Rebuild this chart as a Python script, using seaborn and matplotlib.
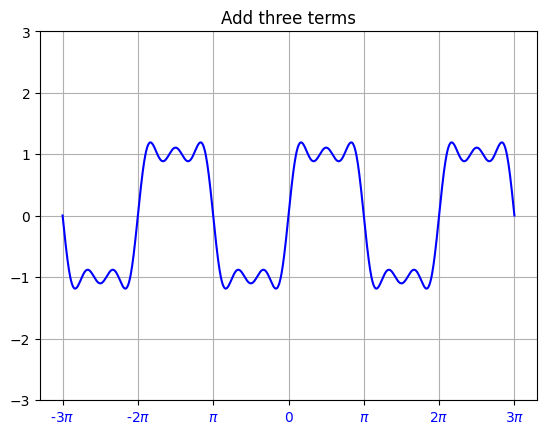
"""
Fourier series of a square wave: sum of the first three odd harmonics.
"""

import matplotlib
matplotlib.use('Agg')
import matplotlib.pyplot as plt
import seaborn as sns
import numpy as np
import pandas as pd

# the three terms: harmonic number and amplitude (4/(n*pi))
harmonics = [1, 3, 5]
amplitudes = [4 / np.pi, 4 / (3 * np.pi), 4 / (5 * np.pi)]

x_ticks = [-3 * np.pi, -2 * np.pi, -np.pi, 0, np.pi, 2 * np.pi, 3 * np.pi]
x_tick_labels = ['-3$\\pi$', '-2$\\pi$', '$\\pi$', '0', '$\\pi$', '2$\\pi$', '3$\\pi$']
y_ticks = [-3, -2, -1, 0, 1, 2, 3]

x = np.linspace(-3 * np.pi, 3 * np.pi, 1000)
y = sum(a * np.sin(n * x) for n, a in zip(harmonics, amplitudes))
df = pd.DataFrame({'x': x, 'y': y})

fig = plt.figure(figsize=(5.46, 4.35), dpi=100)
ax = fig.add_axes([40 / 546, (435 - 401) / 435, 497 / 546, 369 / 435])

sns.lineplot(data=df, x='x', y='y', ax=ax, color='blue', linewidth=1.5)

ax.set_title('Add three terms')
ax.set_xticks(x_ticks)
ax.set_xticklabels(x_tick_labels, color='blue')
ax.set_yticks(y_ticks)
ax.set_ylim(-3, 3)
ax.set_xlabel('')
ax.set_ylabel('')
ax.grid(True)

fig.savefig('out.png', dpi=100)
plt.close(fig)
